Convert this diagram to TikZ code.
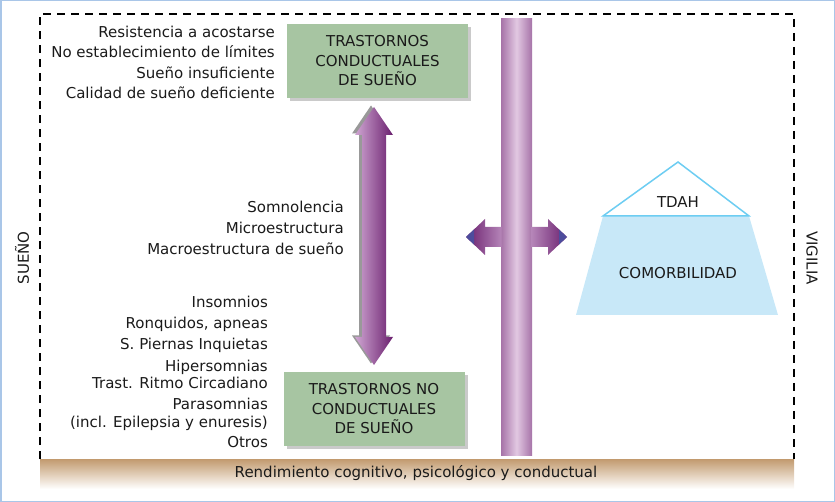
\documentclass[tikz,border=0pt]{standalone}
\usepackage{fontspec}
\setmainfont{DejaVu Sans}
\usetikzlibrary{shadows}
\definecolor{frameblue}{HTML}{A9C6E8}
\definecolor{boxgreen}{HTML}{A7C5A2}
\definecolor{pilA}{HTML}{A673A8}
\definecolor{pilB}{HTML}{E2C8E2}
\definecolor{arrL}{HTML}{CFA6D2}
\definecolor{arrR}{HTML}{6A1F6E}
\definecolor{arrM}{HTML}{B585B8}
\definecolor{tipblue}{HTML}{4D4C9C}
\definecolor{tdahline}{HTML}{6DCDF2}
\definecolor{comfill}{HTML}{C8E8F8}
\definecolor{tanbar}{HTML}{C29A6E}
\definecolor{txt}{HTML}{1A1A1A}
\begin{document}
\begin{tikzpicture}[x=1pt,y=-1pt,
  every node/.style={text=txt},
  font=\fontsize{15}{19.5}\selectfont,
  item/.style={anchor=base east, inner sep=0pt},
  gbox/.style={fill=boxgreen, align=center, minimum width=181pt, minimum height=74pt, inner sep=0pt,
    drop shadow={shadow xshift=3pt, shadow yshift=-3pt, fill=black!35, opacity=0.6}},
  shadowgrey/.style={fill=black!40},
]
\useasboundingbox (0,0) rectangle (835,502);
\draw[frameblue, line width=1.5pt] (0.75,0.75) rectangle (834.25,501.25);

% bottom bar
\shade[top color=tanbar, bottom color=white] (40,459) rectangle (794,489);
\node (perf) at (416,473) {Rendimiento cognitivo, psicológico y conductual};

% dashed frame
\draw[line width=2pt, dash pattern=on 8pt off 6pt] (40,459) -- (40,14) -- (794,14) -- (794,459);

% pillar
\node[left color=pilA, right color=pilA, middle color=pilB, minimum width=31pt, minimum height=436pt, inner sep=0pt] (pillar) at (516.5,237) {};

% horizontal double arrow
\shade[left color=arrR, right color=arrM] (466,237) -- (485,219) -- (485,227) -- (501.5,227) -- (501.5,247) -- (485,247) -- (485,255) -- cycle;
\shade[left color=arrM, right color=arrR] (567,237) -- (548,219) -- (548,227) -- (531.5,227) -- (531.5,247) -- (548,247) -- (548,255) -- cycle;
\fill[tipblue] (466,237) -- (474,229.5) -- (474,244.5) -- cycle;
\fill[tipblue] (567,237) -- (559,229.5) -- (559,244.5) -- cycle;

% green boxes
\node[gbox] (tc) at (377.5,61) {TRASTORNOS\\CONDUCTUALES\\DE SUEÑO};
\node[gbox] (tnc) at (374,409) {TRASTORNOS NO\\CONDUCTUALES\\DE SUEÑO};

% vertical double arrow
\fill[shadowgrey, shift={(-3,-1.5)}] (374,107) -- (393,135) -- (386,135) -- (386,337) -- (393,337) -- (374,365) -- (355,337) -- (362,337) -- (362,135) -- (355,135) -- cycle;
\shade[left color=arrL, right color=arrR] (374,107) -- (393,135) -- (386,135) -- (386,337) -- (393,337) -- (374,365) -- (355,337) -- (362,337) -- (362,135) -- (355,135) -- cycle;

% pyramid
\fill[comfill] (603,216) -- (749,216) -- (778,315) -- (576,315) -- cycle;
\draw[tdahline, line width=1.5pt, fill=white, line join=miter] (603,216) -- (678,162) -- (749,216) -- cycle;
\node (tdah) at (678,202) {TDAH};
\node (comor) at (678,273) {COMORBILIDAD};

% side labels
\node[rotate=90] (sueno) at (22,258) {SUEÑO};
\node[rotate=-90] (vigilia) at (812,258) {VIGILIA};

% top list
\node[item] (t1) at (275,37.5) {Resistencia a acostarse};
\node[item] (t2) at (275,58) {No establecimiento de límites};
\node[item] (t3) at (275,78.5) {Sueño insuficiente};
\node[item] (t4) at (275,98.5) {Calidad de sueño deficiente};

% middle list
\node[item] (m1) at (344,212.5) {Somnolencia};
\node[item] (m2) at (344,233.5) {Microestructura};
\node[item] (m3) at (344,254.5) {Macroestructura de sueño};

% bottom list
\node[item] (b1) at (268,308) {Insomnios};
\node[item] (b2) at (268,328.8) {Ronquidos, apneas};
\node[item] (b3) at (268,349.8) {S. Piernas Inquietas};
\node[item] (b4) at (268,372) {Hipersomnias};
\node[item] (b5) at (268,388.8) {Trast. Ritmo Circadiano};
\node[item] (b6) at (268,409.8) {Parasomnias};
\node[item] (b7) at (268,427) {(incl. Epilepsia y enuresis)};
\node[item] (b8) at (268,447.8) {Otros};
\end{tikzpicture}
\end{document}
